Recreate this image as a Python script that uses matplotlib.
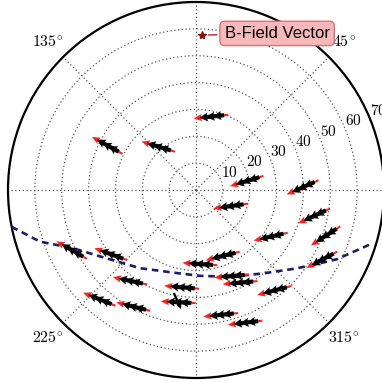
import numpy as np
import matplotlib.pyplot as plt

plt.rcParams['mathtext.fontset'] = 'cm'

# vector positions (polar: angle in degrees, radius) and pointing direction (deg)
vec_theta = [78.4, 153.3, 131.0, 10.0, 335.0, 1.4, 347.6, 328.0, 340.5, 331.0, 292.0, 273.0,
             292.5, 295.4, 307.8, 281.2, 290.3, 261.0, 261.6, 234.0, 241.7, 228.5, 205.8, 217.0]
vec_r = [27.9, 37.0, 21.4, 19.2, 14.2, 39.7, 45.0, 32.8, 51.2, 53.6, 26.5, 27.6,
         34.7, 38.2, 47.4, 47.4, 52.7, 42.3, 36.6, 41.8, 49.3, 54.3, 51.4, 39.7]
vec_dir = [186, 151, 163, 197, 188, 204, 205, 193, 213, 208, 194, 176,
           185, 185, 195, 186, 187, 177, 175, 168, 166, 158, 150, 160]

# odd one out crossing vector
odd_theta, odd_r, odd_dir = 260.5, 41.9, 294

# dashed boundary curve
curve_theta = [191.3, 198.3, 205.4, 217.4, 234.4, 254.7, 272.7, 291.4, 308.9, 322.1, 329.4, 333.8, 343.3]
curve_r = [70.0, 61.2, 50.6, 41.9, 35.8, 31.9, 32.0, 34.7, 39.9, 47.5, 53.6, 58.4, 68.8]

rticks = [10, 20, 30, 40, 50, 60, 70]
theta_ticks = [0, 45, 90, 135, 180, 225, 270, 315]
theta_labels = ['', r'$45^{\!\circ}$', '', r'$135^{\!\circ}$', '', r'$225^{\!\circ}$', '', r'$315^{\!\circ}$']

fig = plt.figure(figsize=(3.82, 3.83), dpi=100)
rect = [8 / 382, 5 / 383, 376 / 382, 376 / 383]
ax = fig.add_axes(rect, projection='polar')
ax.set_ylim(0, 70)
ax.set_yticks(rticks)
ax.set_yticklabels(['$%d$' % t for t in rticks], fontsize=11)
ax.set_rlabel_position(22.5)
ax.set_thetagrids(theta_ticks, labels=theta_labels, fontsize=11.5)
ax.tick_params(axis='x', pad=5)
ax.grid(color='0.35', linestyle=(0, (1, 2)), lw=0.9)
ax.spines['polar'].set_linewidth(1.6)

ax.plot(np.radians(curve_theta), curve_r, color='#1c1c6b', lw=1.9,
        linestyle=(0, (2.5, 1.8)), zorder=3)

# cartesian overlay for the vectors
ax2 = fig.add_axes(rect)
ax2.set_xlim(-70, 70)
ax2.set_ylim(-70, 70)
ax2.axis('off')
ax2.patch.set_alpha(0)

th = np.radians(vec_theta)
x = np.array(vec_r) * np.cos(th)
y = np.array(vec_r) * np.sin(th)
d = np.radians(vec_dir)

L = 13
ax2.quiver(x, y, L * np.cos(d), L * np.sin(d), angles='xy', scale_units='xy', scale=1,
           pivot='middle', color='#ff2020', width=0.0055, headwidth=3.5, headlength=4,
           headaxislength=3.5, zorder=4)
for off in [-2.8, -0.3, 2.2]:
    ax2.quiver(x + off * np.cos(d), y + off * np.sin(d), 4.2 * np.cos(d), 4.2 * np.sin(d),
               angles='xy', scale_units='xy', scale=1, pivot='middle', color='black',
               width=0.011, headwidth=2.2, headlength=2.0, headaxislength=1.8, zorder=5)

ot = np.radians(odd_theta)
od = np.radians(odd_dir)
ax2.quiver(odd_r * np.cos(ot), odd_r * np.sin(ot), 6.5 * np.cos(od), 6.5 * np.sin(od),
           angles='xy', scale_units='xy', scale=1, pivot='middle', color='black',
           width=0.006, headwidth=2, headlength=2, zorder=5)

# legend-like annotation
star_x, star_y = 2.1, 57.7
ax2.plot(star_x, star_y, marker='*', color='#8b1010', ms=6, zorder=6)
ax2.annotate('B-Field Vector', xy=(star_x + 1.5, star_y), xytext=(30.2, 58.3),
             ha='center', va='center', fontsize=12, family='Liberation Sans',
             bbox=dict(boxstyle='round,pad=0.28', fc='#f6b8b8', ec='#e07070', lw=1),
             arrowprops=dict(arrowstyle='-', color='#d04040', lw=1.2), zorder=6)

plt.savefig('out.png', dpi=100)
